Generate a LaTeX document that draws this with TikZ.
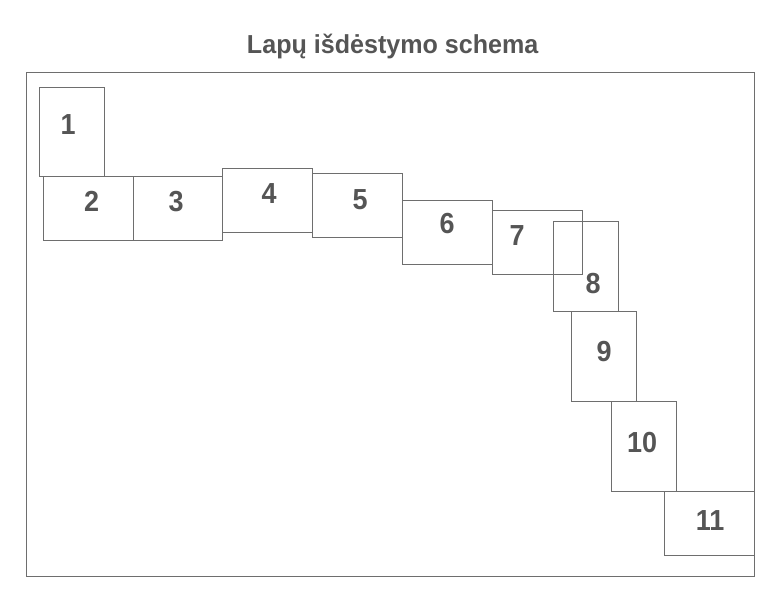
\documentclass[tikz,border=0pt]{standalone}
\usepackage{fontspec}
\setmainfont{Liberation Sans}
\newfontfamily\labelfont[FakeStretch=0.93]{Liberation Sans}
\newfontfamily\headfont[FakeStretch=0.965]{Liberation Sans}
\definecolor{linegray}{HTML}{6E6E6E}
\definecolor{textgray}{HTML}{555555}
\tikzset{
  sheet/.style={draw=linegray, line width=0.9pt},
  frame/.style={draw=linegray, line width=0.9pt},
  sheetno/.style={anchor=base, inner sep=0pt, text=textgray,
    font=\labelfont\bfseries\fontsize{29}{30}\selectfont},
  heading/.style={anchor=base, inner sep=0pt, text=textgray,
    font=\headfont\bfseries\fontsize{26}{28}\selectfont}
}
\begin{document}
\begin{tikzpicture}[x=1pt, y=-1pt]
  \useasboundingbox (0,0) rectangle (765,605);
  % heading
  \node[heading] (title) at (392.7,53.7) {Lapų išdėstymo schema};
  % outer frame
  \draw[frame] (26,72) rectangle (754,576);
  % sheets
  \draw[sheet] (39.5,87)    rectangle (104,176);
  \draw[sheet] (43,176.5)   rectangle (133,240);
  \draw[sheet] (133,176.5)  rectangle (222.7,240);
  \draw[sheet] (222.7,168.7) rectangle (312.7,232.3);
  \draw[sheet] (312.7,173.3) rectangle (402.7,237.3);
  \draw[sheet] (402.7,200.7) rectangle (492.7,264.3);
  \draw[sheet] (492.7,210.3) rectangle (582.7,274);
  \draw[sheet] (553.5,221.7) rectangle (618.3,311);
  \draw[sheet] (571.3,311.3) rectangle (636.3,401);
  \draw[sheet] (611.7,401)   rectangle (676.3,491.3);
  \draw[sheet] (664.3,491.3) rectangle (754,555.3);
  % sheet numbers
  \node[sheetno] (n1)  at (68,134.5)   {1};
  \node[sheetno] (n2)  at (91.7,211.2) {2};
  \node[sheetno] (n3)  at (176,211.2)  {3};
  \node[sheetno] (n4)  at (269,203.2)  {4};
  \node[sheetno] (n5)  at (360,209.7)  {5};
  \node[sheetno] (n6)  at (447,233.2)  {6};
  \node[sheetno] (n7)  at (517,245.2)  {7};
  \node[sheetno] (n8)  at (593,293.2)  {8};
  \node[sheetno] (n9)  at (604,361.2)  {9};
  \node[sheetno] (n10) at (642,452.2)  {10};
  \node[sheetno] (n11) at (710,530.2)  {11};
\end{tikzpicture}
\end{document}
